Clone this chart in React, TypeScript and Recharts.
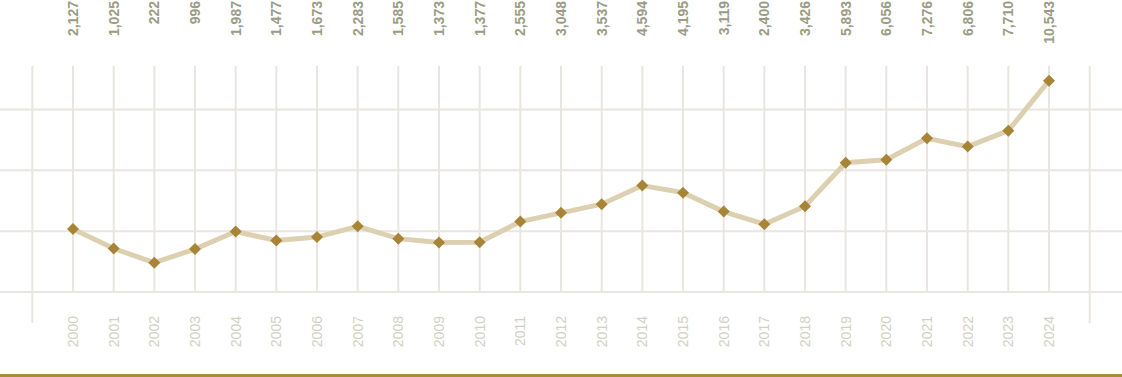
import React from 'react';
import { LineChart, Line, XAxis, YAxis, ReferenceLine, LabelList } from 'recharts';

const years = [2000, 2001, 2002, 2003, 2004, 2005, 2006, 2007, 2008, 2009, 2010, 2011, 2012, 2013, 2014, 2015, 2016, 2017, 2018, 2019, 2020, 2021, 2022, 2023, 2024];
const values = [2127, 1025, 222, 996, 1987, 1477, 1673, 2283, 1585, 1373, 1377, 2555, 3048, 3537, 4594, 4195, 3119, 2400, 3426, 5893, 6056, 7276, 6806, 7710, 10543];
const xTicks = [1999, 2000, 2001, 2002, 2003, 2004, 2005, 2006, 2007, 2008, 2009, 2010, 2011, 2012, 2013, 2014, 2015, 2016, 2017, 2018, 2019, 2020, 2021, 2022, 2023, 2024, 2025];
const yTicks = [-1440, 2010, 5460, 8910];

const data = years.map((y, i) => ({ year: y, value: values[i] }));

const GRID = '#e8e6df';
const LINE = '#ddd0b1';
const GOLD = '#a88436';
const TOP_LABEL = '#9c9c84';
const YEAR_LABEL = '#d2d0c3';
const FONT = '"Liberation Sans", Arial, sans-serif';

const fmt = (v: number) => v.toLocaleString('en-US');

const YearTick = (props: any) => {
  const { x, y, payload } = props;
  const v = payload.value;
  if (v === 1999 || v === 2025) {
    return <line x1={x} x2={x} y1={y} y2={y + 31} stroke={GRID} strokeWidth={2} />;
  }
  const ty = y + 24;
  return (
    <text
      x={x}
      y={ty}
      transform={`rotate(-90, ${x}, ${ty})`}
      textAnchor="end"
      dy="0.36em"
      fill={YEAR_LABEL}
      fontSize={14}
      fontFamily={FONT}
    >
      {v}
    </text>
  );
};

const Diamond = (props: any) => {
  const { cx, cy } = props;
  if (cx == null || cy == null) return null;
  const r = 6;
  return (
    <polygon
      points={`${cx},${cy - r} ${cx + r},${cy} ${cx},${cy + r} ${cx - r},${cy}`}
      fill={GOLD}
    />
  );
};

const TopLabel = (props: any) => {
  const { x, value } = props;
  const ty = 1;
  return (
    <text
      x={x}
      y={ty}
      transform={`rotate(-90, ${x}, ${ty})`}
      textAnchor="end"
      dy="0.36em"
      fill={TOP_LABEL}
      fontSize={14}
      fontWeight="bold"
      fontFamily={FONT}
    >
      {fmt(value)}
    </text>
  );
};

export default function App() {
  return (
    <div style={{ position: 'absolute', left: 0, top: 0, width: 1122, height: 377, background: '#fff' }}>
      <LineChart
        width={1122}
        height={374}
        data={data}
        margin={{ top: 66, right: 0, bottom: 0, left: 0 }}
        style={{ overflow: 'visible' }}
      >
        {yTicks.map((t) => (
          <ReferenceLine key={'h' + t} y={t} stroke={GRID} strokeWidth={2} />
        ))}
        {xTicks.map((t) => (
          <ReferenceLine key={'v' + t} x={t} stroke={GRID} strokeWidth={2} />
        ))}
        <XAxis
          dataKey="year"
          type="number"
          domain={[1998.205, 2025.795]}
          ticks={xTicks}
          allowDataOverflow
          interval={0}
          height={82}
          axisLine={false}
          tickLine={false}
          tickSize={0}
          tickMargin={0}
          tick={<YearTick />}
        />
        <YAxis hide domain={[-1440, 11376]} ticks={yTicks} allowDataOverflow />
        <Line
          type="linear"
          dataKey="value"
          stroke={LINE}
          strokeWidth={5}
          dot={<Diamond />}
          activeDot={false}
          isAnimationActive={false}
        >
          <LabelList dataKey="value" content={<TopLabel />} />
        </Line>
      </LineChart>
      <div style={{ position: 'absolute', left: 0, top: 374, width: 1122, height: 3, background: '#ad8a3c' }} />
    </div>
  );
}
